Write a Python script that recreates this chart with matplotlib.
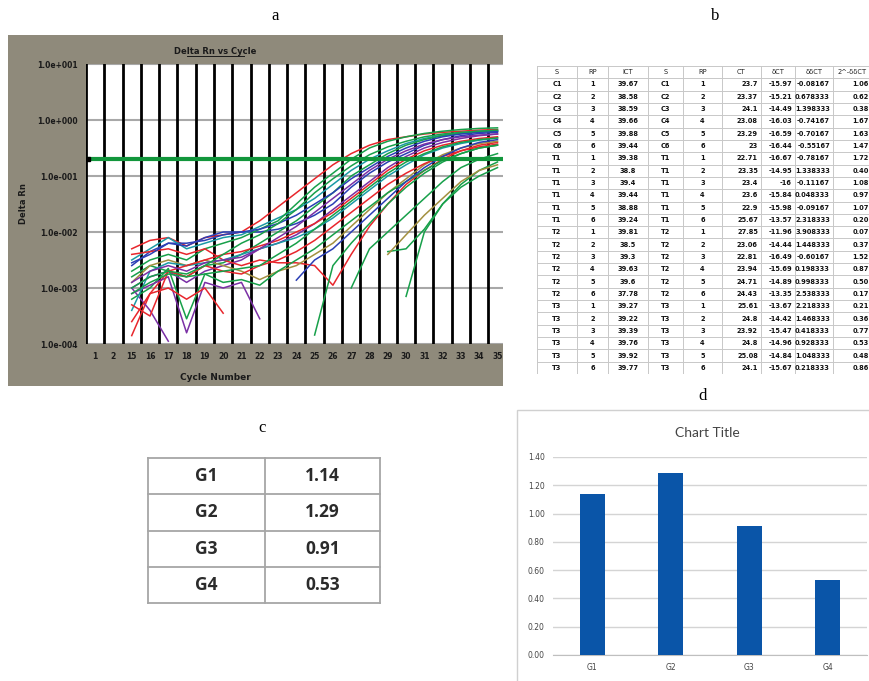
import numpy as np
import matplotlib
matplotlib.use("Agg")
import matplotlib.pyplot as plt
from matplotlib.patches import Rectangle
from matplotlib.lines import Line2D

W, H = 870, 681

# ---------------- data ----------------
# panel a: amplification plot (values are log10 of Delta Rn)
cycle_labels = [1, 2] + list(range(15, 36))
cycles = list(range(15, 36))
y_ticks = [1e-4, 1e-3, 1e-2, 1e-1, 1e0, 1e1]
y_tick_labels = ["1.0e-004", "1.0e-003", "1.0e-002", "1.0e-001", "1.0e+000", "1.0e+001"]
threshold = 0.2
nan = np.nan
curves_log = [
    [-2.3, -2.15, -2.1, -2.25, -2.1, -2.05, -2.0, -1.8, -1.55, -1.3, -1.05, -0.8, -0.6, -0.45, -0.35, -0.3, -0.25, -0.22, -0.2, -0.18, -0.17],
    [-2.6, -2.35, -2.2, -2.2, -2.15, -2.05, -2.0, -2.0, -1.95, -1.85, -1.7, -1.5, -1.2, -0.95, -0.75, -0.6, -0.45, -0.35, -0.28, -0.24, -0.22],
    [-2.5, -2.3, -2.1, -2.3, -2.2, -2.1, -2.05, -1.9, -1.75, -1.6, -1.4, -1.15, -0.9, -0.7, -0.55, -0.42, -0.33, -0.27, -0.23, -0.2, -0.19],
    [-2.7, -2.5, -2.4, -2.5, -2.3, -2.2, -2.1, -1.95, -1.8, -1.5, -1.2, -0.95, -0.7, -0.5, -0.38, -0.3, -0.24, -0.2, -0.17, -0.15, -0.14],
    [-2.8, -2.6, -2.7, -2.8, -2.6, -2.55, -2.4, -2.2, -2.0, -1.8, -1.55, -1.3, -1.0, -0.8, -0.6, -0.45, -0.35, -0.28, -0.24, -0.21, -0.2],
    [-3.0, -2.8, -2.7, -2.9, -2.7, -2.6, -2.5, -2.3, -2.2, -2.05, -1.85, -1.6, -1.35, -1.1, -0.85, -0.65, -0.5, -0.4, -0.33, -0.28, -0.25],
    [-2.4, -2.35, -2.3, -2.4, -2.3, -2.5, -2.6, -2.5, -2.55, -2.55, -2.6, -2.95, -2.4, -1.9, -1.5, -1.15, -0.9, -0.7, -0.55, -0.45, -0.4],
    [-2.9, -2.6, -2.5, -2.6, -2.5, -2.6, -2.7, -2.85, -2.7, -2.6, -2.4, -2.2, -1.9, -1.6, -1.3, -1.05, -0.8, -0.62, -0.5, -0.42, -0.38],
    [-3.85, -3.1, -2.7, -2.8, -2.6, -2.7, -2.75, -2.6, -2.5, -2.35, -2.15, -1.9, -1.65, -1.4, -1.15, -0.95, -0.78, -0.65, -0.55, -0.48, -0.43],
    [-3.0, -3.4, -3.95, nan, nan, nan, nan, nan, nan, nan, nan, nan, nan, nan, nan, nan, nan, nan, nan, nan, nan],
    [-3.2, -3.0, -2.65, -3.55, -2.75, -2.9, -2.85, -2.95, -2.7, -2.5, -2.3, -2.05, -1.8, -1.55, -1.3, -1.1, -0.9, -0.72, -0.6, -0.5, -0.45],
    [-3.1, -2.95, -2.8, -3.8, -2.9, -3.0, -2.9, -3.55, nan, nan, nan, nan, nan, nan, nan, nan, nan, nan, nan, nan, nan],
    [nan, nan, nan, nan, nan, nan, nan, nan, nan, nan, -3.84, -2.6, -2.2, -1.85, -1.5, -1.2, -0.95, -0.75, -0.6, -0.5, -0.45],
    [nan, nan, nan, nan, nan, nan, nan, nan, nan, nan, nan, nan, -3.0, -2.3, -2.0, -1.7, -1.4, -1.1, -0.85, -0.7, -0.6],
    [nan, nan, nan, nan, nan, nan, nan, nan, nan, nan, nan, nan, nan, nan, -2.35, -2.3, -1.95, -1.5, -1.15, -0.9, -0.75],
    [nan, nan, nan, nan, nan, nan, nan, nan, nan, nan, nan, nan, nan, nan, nan, -3.15, -2.0, -1.5, -1.2, -1.0, -0.85],
    [nan, nan, nan, nan, nan, nan, nan, nan, nan, nan, nan, nan, nan, nan, -2.4, -2.05, -1.7, -1.4, -1.1, -0.9, -0.8],
    [nan, nan, nan, nan, nan, nan, nan, nan, nan, -2.86, -2.5, -2.3, -2.0, -1.7, -1.4, -1.1, -0.85, -0.65, -0.5, -0.4, -0.35],
    [-3.4, -2.7, -2.55, -2.6, -2.55, -2.5, -2.4, -2.3, -2.2, -2.1, -1.95, -1.75, -1.5, -1.25, -1.0, -0.8, -0.62, -0.5, -0.42, -0.36, -0.32],
    [-3.3, -3.5, -2.7, -2.6, -2.5, -2.4, -2.35, -2.25, -2.15, -2.0, -1.85, -1.65, -1.4, -1.15, -0.9, -0.7, -0.55, -0.45, -0.38, -0.33, -0.3],
    [-3.6, -3.1, -3.0, -3.2, -3.0, -3.45, nan, nan, nan, nan, nan, nan, nan, nan, nan, nan, nan, nan, nan, nan, nan],
    [-2.55, -2.4, -2.2, -2.25, -2.1, -2.0, -2.0, -1.95, -1.85, -1.7, -1.5, -1.3, -1.05, -0.85, -0.65, -0.5, -0.38, -0.3, -0.25, -0.22, -0.2],
    [-2.9, -2.7, -2.6, -2.7, -2.55, -2.5, -2.45, -2.3, -2.1, -1.9, -1.65, -1.4, -1.15, -0.9, -0.7, -0.55, -0.43, -0.35, -0.3, -0.27, -0.25],
    [-3.1, -2.9, -2.75, -2.8, -2.75, -2.7, -2.65, -2.6, -2.4, -2.2, -1.95, -1.7, -1.45, -1.2, -0.95, -0.75, -0.6, -0.48, -0.4, -0.35, -0.32],
    [-3.0, -2.8, -2.7, -2.75, -2.6, -2.4, -2.2, -2.05, -1.85, -1.6, -1.3, -1.05, -0.82, -0.62, -0.48, -0.38, -0.3, -0.25, -0.22, -0.2, -0.18],
]
curve_colors = ["#e8262c", "#2b3fb5", "#1b9aa5", "#17a04a", "#17a04a", "#7a2fa5", "#e8262c", "#a39040",
                "#e8262c", "#7a2fa5", "#17a04a", "#7a2fa5", "#17a04a", "#17a04a", "#17a04a", "#17a04a",
                "#a39040", "#2b3fb5", "#1b9aa5", "#e8262c", "#e8262c", "#2b3fb5", "#7a2fa5", "#17a04a", "#17a04a"]

# panel b: Ct table
b_header = ["S", "RP", "ICT", "S", "RP", "CT", "\u03b4CT", "\u03b4\u03b4CT", "2^-\u03b4\u03b4CT"]
b_sample = ["C1", "C2", "C3", "C4", "C5", "C6"] + ["T1"] * 6 + ["T2"] * 6 + ["T3"] * 6
b_rp = [1, 2, 3, 4, 5, 6] * 4
b_ct_ref = ["39.67", "38.58", "38.59", "39.66", "39.88", "39.44",
            "39.38", "38.8", "39.4", "39.44", "38.88", "39.24",
            "39.81", "38.5", "39.3", "39.63", "39.6", "37.78",
            "39.27", "39.22", "39.39", "39.76", "39.92", "39.77"]
b_ct = ["23.7", "23.37", "24.1", "23.08", "23.29", "23",
        "22.71", "23.35", "23.4", "23.6", "22.9", "25.67",
        "27.85", "23.06", "22.81", "23.94", "24.71", "24.43",
        "25.61", "24.8", "23.92", "24.8", "25.08", "24.1"]
b_dct = ["-15.97", "-15.21", "-14.49", "-16.03", "-16.59", "-16.44",
         "-16.67", "-14.95", "-16", "-15.84", "-15.98", "-13.57",
         "-11.96", "-14.44", "-16.49", "-15.69", "-14.89", "-13.35",
         "-13.67", "-14.42", "-15.47", "-14.96", "-14.84", "-15.67"]
b_ddct = ["-0.08167", "0.678333", "1.398333", "-0.74167", "-0.70167", "-0.55167",
          "-0.78167", "1.338333", "-0.11167", "0.048333", "-0.09167", "2.318333",
          "3.908333", "1.448333", "-0.60167", "0.198333", "0.998333", "2.538333",
          "2.218333", "1.468333", "0.418333", "0.928333", "1.048333", "0.218333"]
b_fold = ["1.06", "0.62", "0.38", "1.67", "1.63", "1.47",
          "1.72", "0.40", "1.08", "0.97", "1.07", "0.20",
          "0.07", "0.37", "1.52", "0.87", "0.50", "0.17",
          "0.21", "0.36", "0.77", "0.53", "0.48", "0.86"]

# panels c and d: mean fold change per group
groups = ["G1", "G2", "G3", "G4"]
fold_change = [1.14, 1.29, 0.91, 0.53]


def box(x0, y0, x1, y1):
    return [x0 / W, 1 - y1 / H, (x1 - x0) / W, (y1 - y0) / H]


def fx(x):
    return x / W


def fy(y):
    return 1 - y / H


fig = plt.figure(figsize=(W / 100, H / 100), dpi=100)
serif = "Liberation Serif"
for lab, x, y in [("a", 275, 16), ("b", 715, 16), ("c", 262, 428), ("d", 703, 396)]:
    fig.text(fx(x), fy(y), lab, fontsize=12, family=serif, ha="center", va="center")

# ---------------- panel a ----------------
fig.add_artist(Rectangle((fx(8), fy(386)), (503 - 8) / W, (386 - 35) / H,
                         transform=fig.transFigure, facecolor="#8f8a7b", edgecolor="none", zorder=-5))
ax = fig.add_axes(box(86, 64, 503, 344))
ax.set_yscale("log")
ax.set_ylim(1e-4, 1e1)
ax.set_xlim(-0.5, 22.3)
for i in range(-1, 23):
    ax.axvline(i + 0.5, color="black", lw=2, zorder=1)
for t in y_ticks:
    ax.axhline(t, color="#a8a8a8", lw=1.5, zorder=0.5)
xpos = [cycle_labels.index(c) for c in cycles]
for vals, col in zip(curves_log, curve_colors):
    ax.plot(xpos, 10 ** np.array(vals), color=col, lw=1.1, zorder=2)
ax.axhline(threshold, color="#12963c", lw=3, zorder=3)
ax.plot([-0.4], [threshold], marker="s", ms=3, color="black", zorder=4)
ax.set_yticks(y_ticks)
ax.set_yticklabels(y_tick_labels)
ax.minorticks_off()
ax.set_xticks(range(len(cycle_labels)))
ax.set_xticklabels([str(c) for c in cycle_labels])
ax.tick_params(length=0, labelsize=5.5, colors="#1a1a1a", pad=6)
for lbl in ax.get_xticklabels() + ax.get_yticklabels():
    lbl.set_fontweight("bold")
for s in ax.spines.values():
    s.set_visible(False)
ax.set_facecolor("white")

fig.text(fx(215), fy(51), "Delta Rn vs Cycle", fontsize=6, fontweight="bold", ha="center", va="center", color="#1a1a1a")
fig.add_artist(Line2D([fx(187), fx(244)], [fy(56), fy(56)], color="#1a1a1a", lw=0.7))
fig.text(fx(24), fy(204), "Delta Rn", fontsize=6, fontweight="bold", rotation=90, ha="center", va="center", color="#1a1a1a")
fig.text(fx(215), fy(378), "Cycle Number", fontsize=6.5, fontweight="bold", ha="center", va="center", color="#1a1a1a")
# crop edge of panel a
fig.add_artist(Rectangle((fx(503), fy(395)), 30 / W, 370 / H, transform=fig.transFigure,
                         facecolor="white", edgecolor="none", zorder=10))

# ---------------- panel b ----------------
bx0, by0, bx1, by1 = 537, 66, 872, 374
axb = fig.add_axes(box(bx0, by0, bx1, by1))
axb.set_xlim(bx0, bx1)
axb.set_ylim(by1, by0)
axb.axis("off")
col_edges = [537, 577, 608, 648, 683, 722, 761, 795, 833, 872]
nrows = len(b_sample) + 1
rh = (by1 - by0) / nrows
for r in range(nrows + 1):
    axb.plot([bx0, bx1], [by0 + r * rh] * 2, color="#c8c8c8", lw=0.7)
for c in col_edges:
    axb.plot([c, c], [by0, by1], color="#c8c8c8", lw=0.7)
for j, h in enumerate(b_header):
    axb.text((col_edges[j] + col_edges[j + 1]) / 2, by0 + rh / 2, h, fontsize=4.8,
             ha="center", va="center", color="#222", clip_on=False)
columns = [b_sample, b_rp, b_ct_ref, b_sample, b_rp, b_ct, b_dct, b_ddct, b_fold]
for j, colvals in enumerate(columns):
    for i, v in enumerate(colvals):
        yc = by0 + (i + 1.5) * rh
        if j >= 5:
            axb.text(col_edges[j + 1] - 3, yc, str(v), fontsize=4.8, ha="right", va="center",
                     color="#111", fontweight="bold")
        else:
            axb.text((col_edges[j] + col_edges[j + 1]) / 2, yc, str(v), fontsize=4.8, ha="center",
                     va="center", color="#111", fontweight="bold")

# ---------------- panel c ----------------
cx0, cy0, cx1, cy1 = 148, 458, 380, 603
axc = fig.add_axes(box(cx0, cy0, cx1, cy1))
axc.set_xlim(cx0, cx1)
axc.set_ylim(cy1, cy0)
axc.axis("off")
csplit = 265
crh = (cy1 - cy0) / len(groups)
for r in range(len(groups) + 1):
    axc.plot([cx0, cx1], [cy0 + r * crh] * 2, color="#a6a6a6", lw=1.3, clip_on=False)
for c in [cx0, csplit, cx1]:
    axc.plot([c, c], [cy0, cy1], color="#a6a6a6", lw=1.3, clip_on=False)
for i, (g, v) in enumerate(zip(groups, fold_change)):
    yc = cy0 + (i + 0.5) * crh
    axc.text((cx0 + csplit) / 2, yc, g, fontsize=12.5, fontweight="bold", family="Open Sans",
             ha="center", va="center", color="#2b2b2b")
    axc.text((csplit + cx1) / 2, yc, f"{v:.2f}", fontsize=12.5, fontweight="bold", family="Open Sans",
             ha="center", va="center", color="#2b2b2b")

# ---------------- panel d ----------------
fig.add_artist(Rectangle((fx(517), fy(690)), 400 / W, 280 / H, transform=fig.transFigure,
                         facecolor="none", edgecolor="#d0d0d0", lw=1))
axd = fig.add_axes(box(553, 457, 867, 655))
axd.bar(range(len(groups)), fold_change, width=0.32, color="#0a55a8", zorder=3)
axd.set_xlim(-0.5, 3.5)
axd.set_ylim(0, 1.4)
axd.set_yticks(np.arange(0, 1.41, 0.2))
axd.set_yticklabels([f"{t:.2f}" for t in np.arange(0, 1.41, 0.2)])
axd.set_xticks(range(len(groups)))
axd.set_xticklabels(groups)
axd.yaxis.grid(True, color="#d4d4d4", lw=1)
axd.set_axisbelow(True)
axd.tick_params(length=0, labelsize=5.5, colors="#444", pad=6)
for s in ["left", "right", "top"]:
    axd.spines[s].set_visible(False)
axd.spines["bottom"].set_color("#bfbfbf")
fig.text(fx(707), fy(433), "Chart Title", fontsize=10, family="Lato", ha="center", va="center", color="#444")

fig.savefig("out.png", dpi=100, facecolor="white")
